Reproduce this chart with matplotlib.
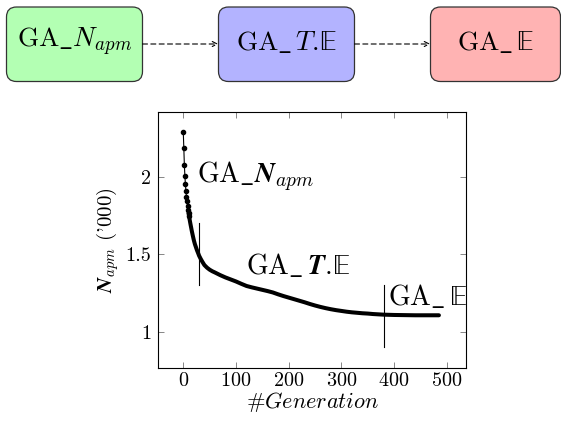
import matplotlib
matplotlib.use("Agg")
import matplotlib.pyplot as plt
from matplotlib.patches import FancyBboxPatch

plt.rcParams['mathtext.fontset'] = 'cm'
plt.rcParams['mathtext.fallback'] = 'stix'
plt.rcParams['mathtext.default'] = 'rm'
plt.rcParams['font.family'] = 'serif'
plt.rcParams['font.serif'] = ['cmr10', 'DejaVu Serif']
plt.rcParams['axes.formatter.use_mathtext'] = True

# data
generation = [0, 1, 2, 3, 4, 5, 6, 7, 8, 9, 10, 11, 12, 13, 14, 15, 16, 17, 18, 19,
              20, 22, 24, 26, 28, 30, 33, 36, 40, 45, 50, 55, 60, 70, 80, 90,
              100, 110, 120, 130, 140, 150, 160, 170, 180, 190, 200, 210, 220,
              230, 240, 250, 260, 270, 280, 290, 300, 310, 320, 330, 340, 350,
              360, 370, 380, 400, 420, 440, 460, 485]
napm = [2.286, 2.183, 2.077, 2.006, 1.950, 1.908, 1.871, 1.841, 1.813, 1.787,
        1.766, 1.744, 1.724, 1.705, 1.687, 1.670, 1.652, 1.636, 1.620, 1.605,
        1.590, 1.565, 1.545, 1.525, 1.508, 1.490, 1.470, 1.452, 1.430, 1.413,
        1.400, 1.390, 1.382, 1.365, 1.350, 1.337, 1.324, 1.309, 1.295, 1.286,
        1.278, 1.270, 1.262, 1.253, 1.241, 1.230, 1.220, 1.210, 1.200, 1.190,
        1.179, 1.169, 1.160, 1.152, 1.145, 1.139, 1.134, 1.129, 1.125, 1.122,
        1.119, 1.117, 1.114, 1.112, 1.110, 1.108, 1.107, 1.106, 1.106, 1.106]

xticks = [0, 100, 200, 300, 400, 500]
yticks = [1, 1.5, 2]
ytick_labels = ['1', '1.5', '2']

# phase boundaries (generation, y from, y to)
phase_marks = [(30, 1.7, 1.3), (380, 1.3, 0.9)]
phase_labels = [r'$\mathrm{GA\_}\boldsymbol{N}_{\mathit{apm}}$',
                r'$\mathrm{GA\_\,}\boldsymbol{T}.\!\mathbb{E}$',
                r'$\mathrm{GA\_\,}\mathbb{E}$']
phase_label_pos = [(26, 2.0), (119, 1.425), (388, 1.225)]

box_labels = [r'$\mathrm{GA\_}\mathit{N}_{\mathit{apm}}$',
              r'$\mathrm{GA\_\,}\mathit{T}.\!\mathbb{E}$',
              r'$\mathrm{GA\_\,}\mathbb{E}$']
box_colors = ['#b3ffb3', '#b3b3ff', '#ffb3b3']

fig = plt.figure(figsize=(5.61, 4.25), dpi=100)

# flow chart on top, in pixel coordinates
top = fig.add_axes([0, 0, 1, 1])
top.set_xlim(0, 561)
top.set_ylim(425, 0)
top.axis('off')
box_x = [(6.5, 142.5), (218.5, 354.5), (430.5, 560.5)]
for (x0, x1), lab, col in zip(box_x, box_labels, box_colors):
    p = FancyBboxPatch((x0, 7), x1 - x0, 74.5, boxstyle='round,pad=0,rounding_size=10',
                       facecolor=col, edgecolor='#333333', linewidth=0.9)
    top.add_patch(p)
    top.text((x0 + x1) / 2, 42, lab, ha='center', va='center', fontsize=19.5)
for i in range(2):
    top.annotate('', xy=(box_x[i + 1][0], 44), xytext=(box_x[i][1], 44),
                 arrowprops=dict(arrowstyle='->', linestyle=(0, (4.5, 3)), lw=0.8,
                                 color='black', shrinkA=0, shrinkB=0,
                                 mutation_scale=9))

ax = fig.add_axes([0.2822, 0.1334, 0.548, 0.6038])
ax.plot(generation, napm, color='black', lw=0.8, marker='o', markersize=3,
        markevery=list(range(12)))
ax.plot(generation[10:], napm[10:], color='black', lw=2.9, solid_capstyle='round',
        solid_joinstyle='round')

for g, y0, y1 in phase_marks:
    ax.plot([g, g], [y0, y1], color='black', lw=0.8)
for lab, (gx, gy) in zip(phase_labels, phase_label_pos):
    ax.text(gx, gy, lab, ha='left', va='center', fontsize=20)

ax.set_xlim(-47.4, 535.9)
ax.set_ylim(0.764, 2.419)
ax.set_xticks(xticks)
ax.set_yticks(yticks)
ax.set_yticklabels(ytick_labels)
ax.tick_params(direction='in', top=True, right=True, length=4, width=0.6,
               color='0.45', labelsize=14.5)
ax.tick_params(axis='x', pad=3)
ax.tick_params(axis='y', pad=5)
for s in ax.spines.values():
    s.set_linewidth(0.8)

ax.set_xlabel(r'#$\mathit{Generation}$', fontsize=16, labelpad=0)
ax.set_ylabel(r"$\boldsymbol{N}_{\mathit{apm}}$ ('000)", fontsize=15, labelpad=3)

fig.savefig('out.png', dpi=100)
